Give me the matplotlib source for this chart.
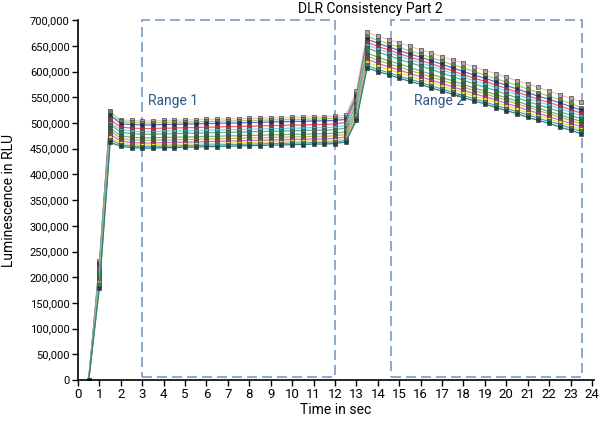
import numpy as np
import matplotlib
matplotlib.use('Agg')
from matplotlib import pyplot as plt
from matplotlib.patches import Rectangle
from matplotlib.ticker import FuncFormatter

plt.rcParams['font.family'] = ['Roboto', 'DejaVu Sans']

# time points, every half second
time_sec = [0.5 * k for k in range(1, 48)]

# luminescence readings in thousands of RLU (top to bottom)
s1 = [0, 232, 510, 506, 505, 504, 504, 505, 505, 506, 506, 507, 507, 508, 508, 509, 509, 510, 510, 511, 511, 512, 512, 513,
      515, 562, 676, 669, 662, 656, 649, 642, 636, 629, 622, 616, 609, 602, 596, 589, 582, 576, 569, 562, 555, 548, 541]
s2 = [0, 228, 523, 503, 501, 500, 500, 501, 501, 502, 502, 503, 503, 504, 504, 505, 505, 506, 506, 507, 507, 508, 508, 509,
      511, 557, 668, 661, 654, 647, 640, 634, 627, 620, 613, 607, 600, 593, 586, 580, 573, 566, 559, 552, 545, 538, 530]
s3 = [0, 225, 516, 498, 497, 496, 496, 497, 497, 498, 498, 499, 499, 500, 500, 501, 501, 502, 502, 503, 503, 504, 504, 505,
      507, 552, 663, 655, 648, 641, 634, 628, 621, 614, 607, 600, 593, 587, 580, 573, 566, 559, 552, 546, 539, 532, 525]
s4 = [0, 220, 506, 492, 490, 489, 489, 490, 490, 491, 491, 492, 492, 493, 493, 494, 494, 495, 495, 496, 496, 497, 497, 498,
      501, 546, 657, 649, 642, 635, 628, 622, 615, 608, 601, 594, 587, 581, 574, 567, 560, 553, 546, 540, 533, 526, 519]
s5 = [0, 215, 500, 487, 484, 483, 483, 484, 484, 485, 485, 486, 486, 487, 487, 488, 488, 489, 489, 490, 490, 491, 491, 492,
      495, 541, 651, 644, 637, 630, 623, 617, 610, 603, 596, 589, 582, 576, 569, 562, 555, 548, 541, 535, 528, 521, 514]
s6 = [0, 210, 497, 482, 479, 478, 478, 479, 479, 480, 480, 481, 481, 482, 482, 483, 483, 484, 484, 485, 485, 486, 486, 487,
      490, 536, 646, 638, 631, 624, 617, 611, 604, 597, 590, 583, 576, 570, 563, 556, 549, 542, 535, 529, 522, 515, 508]
s7 = [0, 205, 490, 475, 472, 471, 471, 472, 472, 473, 473, 474, 474, 475, 475, 476, 476, 477, 477, 478, 478, 479, 479, 480,
      483, 528, 636, 628, 621, 615, 608, 601, 595, 588, 582, 575, 568, 562, 555, 549, 542, 535, 529, 522, 516, 509, 503]
s8 = [0, 200, 484, 470, 467, 466, 466, 467, 467, 468, 468, 469, 469, 470, 470, 471, 471, 472, 472, 473, 473, 474, 474, 475,
      478, 523, 630, 622, 615, 609, 602, 596, 589, 583, 576, 570, 563, 557, 550, 544, 537, 531, 524, 518, 511, 505, 498]
s9 = [0, 195, 478, 465, 462, 461, 461, 462, 462, 463, 463, 464, 464, 465, 465, 466, 466, 467, 467, 468, 468, 469, 469, 470,
      473, 518, 624, 616, 609, 603, 596, 590, 583, 577, 570, 564, 557, 551, 545, 538, 532, 525, 519, 512, 506, 499, 493]
s10 = [0, 190, 472, 461, 458, 457, 457, 458, 458, 459, 459, 460, 460, 461, 461, 462, 462, 463, 463, 464, 464, 465, 465, 466,
       469, 513, 618, 610, 604, 597, 591, 584, 578, 572, 565, 559, 552, 546, 540, 533, 527, 520, 514, 508, 501, 495, 488]
s11 = [0, 185, 467, 458, 455, 454, 454, 455, 455, 456, 456, 457, 457, 458, 458, 459, 459, 460, 460, 461, 461, 462, 462, 463,
       466, 509, 612, 604, 598, 591, 585, 579, 572, 566, 560, 553, 547, 541, 534, 528, 522, 516, 509, 503, 497, 490, 484]
s12 = [0, 180, 462, 455, 452, 451, 451, 452, 452, 453, 453, 454, 454, 455, 455, 456, 456, 457, 457, 458, 458, 459, 459, 460,
       463, 505, 607, 600, 594, 587, 581, 575, 568, 562, 556, 549, 543, 537, 530, 524, 518, 511, 505, 499, 492, 486, 479]

series = [s1, s2, s3, s4, s5, s6, s7, s8, s9, s10, s11, s12]
line_colors = ['#f5c0c8', '#a8d070', '#6070c0', '#f06070', '#80d8e8', '#60b0a0',
               '#70b870', '#b0c060', '#d070c8', '#f0e040', '#50a8a8', '#308080']
face_colors = ['#b0a8a8', '#6a8a30', '#1a2a80', '#d02030', '#40a8c8', '#2a7a50',
               '#2a6a2a', '#506020', '#a03090', '#e8d800', '#208080', '#104848']

fig = plt.figure(figsize=(6.0, 4.28), dpi=100)
ax = fig.add_axes([0.13, 0.112, 0.8595, 0.841])

for vals, lc, fc in zip(series, line_colors, face_colors):
    ax.plot(time_sec, np.array(vals) * 1000, color=lc, lw=0.9, marker='s', markersize=2.6,
            markerfacecolor=fc, markeredgecolor='#444444', markeredgewidth=0.5)

# dashed range boxes
box_col = '#7b9cc0'
ax.add_patch(Rectangle((3, 5000), 9, 695000, fill=False, ec=box_col, lw=1.2,
                       ls=(0, (6, 3)), clip_on=False))
ax.add_patch(Rectangle((14.6, 5000), 8.95, 695000, fill=False, ec=box_col, lw=1.2,
                       ls=(0, (6, 3)), clip_on=False))
ax.text(3.25, 543000, 'Range 1', color='#2b5a88', fontsize=10, va='center')
ax.text(15.7, 543000, 'Range 2', color='#2b5a88', fontsize=10, va='center')

ax.set_xlim(0, 24.08)
ax.set_ylim(0, 700000)
ax.set_xticks(range(0, 25))
ax.set_yticks(range(0, 700001, 50000))
ax.yaxis.set_major_formatter(FuncFormatter(lambda v, p: f'{int(v):,}'))
ax.tick_params(length=4, width=1, colors='black')
ax.tick_params(axis='x', labelsize=9.5, pad=2)
ax.tick_params(axis='y', labelsize=8, pad=2)
for side in ['top', 'right']:
    ax.spines[side].set_visible(False)
for side in ['left', 'bottom']:
    ax.spines[side].set_linewidth(1.2)

ax.set_xlabel('Time in sec', fontsize=10, labelpad=1)
ax.set_ylabel('Luminescence in RLU', fontsize=10, labelpad=10)
fig.text(0.617, 0.98, 'DLR Consistency Part 2', fontsize=10, ha='center', va='center')

fig.savefig('out.png', dpi=100)
